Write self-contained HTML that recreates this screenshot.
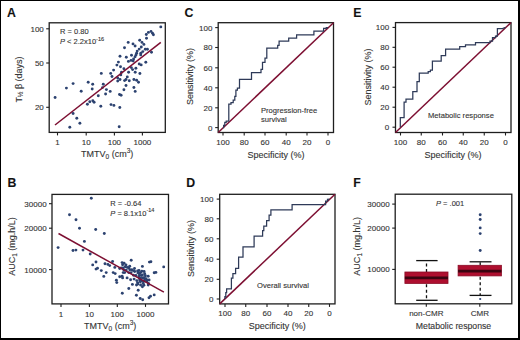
<!DOCTYPE html>
<html><head><meta charset="utf-8"><style>
html,body{margin:0;padding:0;background:#fff;}
body{width:520px;height:340px;overflow:hidden;position:relative;}
svg{position:absolute;left:0;top:0;}
svg text{font-family:"Liberation Sans", sans-serif;stroke:#3a3a3a;stroke-width:0.12px;}
</style></head><body>
<svg width="520" height="340" viewBox="0 0 520 340">
<rect x="0" y="0" width="520" height="340" fill="#fff"/>
<text x="7.0" y="16.5" font-size="12.3" text-anchor="start" fill="#111" font-weight="bold" >A</text>
<rect x="49.2" y="22.8" width="116.10000000000001" height="109.60000000000001" fill="none" stroke="#1e1e1e" stroke-width="1.3"/>
<line x1="57.5" y1="132.4" x2="57.5" y2="135.4" stroke="#1e1e1e" stroke-width="1.1"/>
<text x="57.5" y="144.8" font-size="8" text-anchor="middle" fill="#333" font-weight="normal" >1</text>
<line x1="86.2" y1="132.4" x2="86.2" y2="135.4" stroke="#1e1e1e" stroke-width="1.1"/>
<text x="86.2" y="144.8" font-size="8" text-anchor="middle" fill="#333" font-weight="normal" >10</text>
<line x1="114.4" y1="132.4" x2="114.4" y2="135.4" stroke="#1e1e1e" stroke-width="1.1"/>
<text x="114.4" y="144.8" font-size="8" text-anchor="middle" fill="#333" font-weight="normal" >100</text>
<line x1="142.4" y1="132.4" x2="142.4" y2="135.4" stroke="#1e1e1e" stroke-width="1.1"/>
<text x="142.4" y="144.8" font-size="8" text-anchor="middle" fill="#333" font-weight="normal" >1000</text>
<text x="107.2" y="156.7" font-size="9" text-anchor="middle" fill="#333" font-weight="normal" >TMTV<tspan font-size="6.5" dy="2">0</tspan><tspan dy="-2"> (cm</tspan><tspan font-size="6.5" dy="-3.5">3</tspan><tspan dy="3.5">)</tspan></text>
<line x1="46.2" y1="28.8" x2="49.2" y2="28.8" stroke="#1e1e1e" stroke-width="1.1"/>
<text x="43.8" y="31.7" font-size="8" text-anchor="end" fill="#333" font-weight="normal" >100</text>
<line x1="46.2" y1="63.0" x2="49.2" y2="63.0" stroke="#1e1e1e" stroke-width="1.1"/>
<text x="43.8" y="65.9" font-size="8" text-anchor="end" fill="#333" font-weight="normal" >50</text>
<line x1="46.2" y1="107.3" x2="49.2" y2="107.3" stroke="#1e1e1e" stroke-width="1.1"/>
<text x="43.8" y="110.2" font-size="8" text-anchor="end" fill="#333" font-weight="normal" >20</text>
<text transform="translate(21.9,79.5) rotate(-90)" font-size="9" text-anchor="middle" fill="#333">T<tspan font-size="6.5" dy="1.5">½</tspan><tspan dy="-1.5"> β (days)</tspan></text>
<text x="60.0" y="34.1" font-size="7.5" text-anchor="start" fill="#333" font-weight="normal" >R = 0.80</text>
<text x="60.0" y="44.3" font-size="7.5" text-anchor="start" fill="#333" font-weight="normal" ><tspan font-style="italic">P</tspan> &lt; 2.2x10<tspan font-size="5.6" dy="-3.3">-16</tspan></text>
<circle cx="55.1" cy="97.5" r="1.45" fill="#2c4270"/>
<circle cx="66.4" cy="88.1" r="1.45" fill="#2c4270"/>
<circle cx="73.1" cy="83.6" r="1.45" fill="#2c4270"/>
<circle cx="88.2" cy="82.3" r="1.45" fill="#2c4270"/>
<circle cx="81.2" cy="91.2" r="1.45" fill="#2c4270"/>
<circle cx="87.4" cy="104.2" r="1.45" fill="#2c4270"/>
<circle cx="89.8" cy="101.8" r="1.45" fill="#2c4270"/>
<circle cx="73.1" cy="113.5" r="1.45" fill="#2c4270"/>
<circle cx="76.8" cy="118.2" r="1.45" fill="#2c4270"/>
<circle cx="79.9" cy="123.2" r="1.45" fill="#2c4270"/>
<circle cx="69.8" cy="127.2" r="1.45" fill="#2c4270"/>
<circle cx="118.4" cy="62.1" r="1.45" fill="#2c4270"/>
<circle cx="116.9" cy="65.1" r="1.45" fill="#2c4270"/>
<circle cx="120.5" cy="66.7" r="1.45" fill="#2c4270"/>
<circle cx="123.9" cy="68.7" r="1.45" fill="#2c4270"/>
<circle cx="113.6" cy="70.1" r="1.45" fill="#2c4270"/>
<circle cx="101.3" cy="73.4" r="1.45" fill="#2c4270"/>
<circle cx="110.7" cy="73.4" r="1.45" fill="#2c4270"/>
<circle cx="112" cy="76.5" r="1.45" fill="#2c4270"/>
<circle cx="121.5" cy="72.3" r="1.45" fill="#2c4270"/>
<circle cx="120.8" cy="74.9" r="1.45" fill="#2c4270"/>
<circle cx="117.7" cy="78" r="1.45" fill="#2c4270"/>
<circle cx="120" cy="79.5" r="1.45" fill="#2c4270"/>
<circle cx="117.7" cy="81.1" r="1.45" fill="#2c4270"/>
<circle cx="92.7" cy="84.2" r="1.45" fill="#2c4270"/>
<circle cx="92.2" cy="89" r="1.45" fill="#2c4270"/>
<circle cx="103.3" cy="84.2" r="1.45" fill="#2c4270"/>
<circle cx="102.5" cy="87.6" r="1.45" fill="#2c4270"/>
<circle cx="106.4" cy="89.6" r="1.45" fill="#2c4270"/>
<circle cx="110.2" cy="91.4" r="1.45" fill="#2c4270"/>
<circle cx="105.6" cy="94" r="1.45" fill="#2c4270"/>
<circle cx="119.5" cy="94.5" r="1.45" fill="#2c4270"/>
<circle cx="123.9" cy="89.8" r="1.45" fill="#2c4270"/>
<circle cx="124.6" cy="80.6" r="1.45" fill="#2c4270"/>
<circle cx="98.3" cy="95.7" r="1.45" fill="#2c4270"/>
<circle cx="121.1" cy="95.3" r="1.45" fill="#2c4270"/>
<circle cx="92.8" cy="100.8" r="1.45" fill="#2c4270"/>
<circle cx="94.1" cy="102.3" r="1.45" fill="#2c4270"/>
<circle cx="100.8" cy="106.2" r="1.45" fill="#2c4270"/>
<circle cx="111" cy="104.6" r="1.45" fill="#2c4270"/>
<circle cx="113.9" cy="105.4" r="1.45" fill="#2c4270"/>
<circle cx="119.8" cy="107.5" r="1.45" fill="#2c4270"/>
<circle cx="119.2" cy="126.7" r="1.45" fill="#2c4270"/>
<circle cx="128.2" cy="42.4" r="1.45" fill="#2c4270"/>
<circle cx="133" cy="43.9" r="1.45" fill="#2c4270"/>
<circle cx="135.1" cy="46" r="1.45" fill="#2c4270"/>
<circle cx="124.5" cy="47.7" r="1.45" fill="#2c4270"/>
<circle cx="139.7" cy="40.3" r="1.45" fill="#2c4270"/>
<circle cx="142" cy="42.4" r="1.45" fill="#2c4270"/>
<circle cx="143.9" cy="44.4" r="1.45" fill="#2c4270"/>
<circle cx="141.3" cy="47" r="1.45" fill="#2c4270"/>
<circle cx="139.2" cy="49.1" r="1.45" fill="#2c4270"/>
<circle cx="137.2" cy="51.1" r="1.45" fill="#2c4270"/>
<circle cx="136.6" cy="53.2" r="1.45" fill="#2c4270"/>
<circle cx="140.8" cy="53.2" r="1.45" fill="#2c4270"/>
<circle cx="142.8" cy="51.6" r="1.45" fill="#2c4270"/>
<circle cx="120" cy="56.3" r="1.45" fill="#2c4270"/>
<circle cx="126.3" cy="57.3" r="1.45" fill="#2c4270"/>
<circle cx="131.5" cy="55.3" r="1.45" fill="#2c4270"/>
<circle cx="135.1" cy="56.8" r="1.45" fill="#2c4270"/>
<circle cx="133.6" cy="58.9" r="1.45" fill="#2c4270"/>
<circle cx="128.4" cy="61.4" r="1.45" fill="#2c4270"/>
<circle cx="139.2" cy="64" r="1.45" fill="#2c4270"/>
<circle cx="131" cy="60.4" r="1.45" fill="#2c4270"/>
<circle cx="160.8" cy="26.9" r="1.45" fill="#2c4270"/>
<circle cx="146.3" cy="34.5" r="1.45" fill="#2c4270"/>
<circle cx="148.4" cy="32.4" r="1.45" fill="#2c4270"/>
<circle cx="151" cy="31.4" r="1.45" fill="#2c4270"/>
<circle cx="152.5" cy="33.2" r="1.45" fill="#2c4270"/>
<circle cx="153.4" cy="34.8" r="1.45" fill="#2c4270"/>
<circle cx="146.5" cy="38.2" r="1.45" fill="#2c4270"/>
<circle cx="145.3" cy="49.2" r="1.45" fill="#2c4270"/>
<circle cx="147.4" cy="49.2" r="1.45" fill="#2c4270"/>
<circle cx="151.5" cy="52.3" r="1.45" fill="#2c4270"/>
<circle cx="136" cy="54.9" r="1.45" fill="#2c4270"/>
<circle cx="140.7" cy="54.9" r="1.45" fill="#2c4270"/>
<circle cx="133.2" cy="61" r="1.45" fill="#2c4270"/>
<circle cx="145.8" cy="62.3" r="1.45" fill="#2c4270"/>
<circle cx="141.2" cy="64.9" r="1.45" fill="#2c4270"/>
<circle cx="131.3" cy="67.6" r="1.45" fill="#2c4270"/>
<circle cx="132.6" cy="69.6" r="1.45" fill="#2c4270"/>
<circle cx="135.9" cy="68.2" r="1.45" fill="#2c4270"/>
<circle cx="135.2" cy="72.2" r="1.45" fill="#2c4270"/>
<circle cx="128.6" cy="72.2" r="1.45" fill="#2c4270"/>
<circle cx="139.9" cy="73.5" r="1.45" fill="#2c4270"/>
<circle cx="126" cy="79.5" r="1.45" fill="#2c4270"/>
<circle cx="129.3" cy="80.8" r="1.45" fill="#2c4270"/>
<circle cx="127.3" cy="76.9" r="1.45" fill="#2c4270"/>
<circle cx="133.9" cy="79.5" r="1.45" fill="#2c4270"/>
<circle cx="136.6" cy="80.2" r="1.45" fill="#2c4270"/>
<circle cx="138.5" cy="82.2" r="1.45" fill="#2c4270"/>
<circle cx="126" cy="85.5" r="1.45" fill="#2c4270"/>
<circle cx="133.9" cy="87.5" r="1.45" fill="#2c4270"/>
<circle cx="135.2" cy="91.4" r="1.45" fill="#2c4270"/>
<line x1="55" y1="125" x2="160.8" y2="42.4" stroke="#7d0f32" stroke-width="1.5"/>
<text x="7.4" y="186.5" font-size="12.3" text-anchor="start" fill="#111" font-weight="bold" >B</text>
<rect x="52.0" y="194.4" width="116.5" height="109.49999999999997" fill="none" stroke="#1e1e1e" stroke-width="1.3"/>
<line x1="61.0" y1="303.9" x2="61.0" y2="306.9" stroke="#1e1e1e" stroke-width="1.1"/>
<text x="61.0" y="316.6" font-size="8" text-anchor="middle" fill="#333" font-weight="normal" >1</text>
<line x1="89.4" y1="303.9" x2="89.4" y2="306.9" stroke="#1e1e1e" stroke-width="1.1"/>
<text x="89.4" y="316.6" font-size="8" text-anchor="middle" fill="#333" font-weight="normal" >10</text>
<line x1="117.3" y1="303.9" x2="117.3" y2="306.9" stroke="#1e1e1e" stroke-width="1.1"/>
<text x="117.3" y="316.6" font-size="8" text-anchor="middle" fill="#333" font-weight="normal" >100</text>
<line x1="145.5" y1="303.9" x2="145.5" y2="306.9" stroke="#1e1e1e" stroke-width="1.1"/>
<text x="145.5" y="316.6" font-size="8" text-anchor="middle" fill="#333" font-weight="normal" >1000</text>
<text x="110.2" y="328.7" font-size="9" text-anchor="middle" fill="#333" font-weight="normal" >TMTV<tspan font-size="6.5" dy="2">0</tspan><tspan dy="-2"> (cm</tspan><tspan font-size="6.5" dy="-3.5">3</tspan><tspan dy="3.5">)</tspan></text>
<line x1="49.0" y1="203.7" x2="52.0" y2="203.7" stroke="#1e1e1e" stroke-width="1.1"/>
<text x="46.6" y="206.6" font-size="8" text-anchor="end" fill="#333" font-weight="normal" >30000</text>
<line x1="49.0" y1="228.2" x2="52.0" y2="228.2" stroke="#1e1e1e" stroke-width="1.1"/>
<text x="46.6" y="231.1" font-size="8" text-anchor="end" fill="#333" font-weight="normal" >20000</text>
<line x1="49.0" y1="269.6" x2="52.0" y2="269.6" stroke="#1e1e1e" stroke-width="1.1"/>
<text x="46.6" y="272.5" font-size="8" text-anchor="end" fill="#333" font-weight="normal" >10000</text>
<text transform="translate(15.4,246.5) rotate(-90)" font-size="9" text-anchor="middle" fill="#333">AUC<tspan font-size="6.5" dy="1.8">1</tspan><tspan dy="-1.8"> (mg.h/L)</tspan></text>
<text x="110.3" y="206.0" font-size="7.5" text-anchor="start" fill="#333" font-weight="normal" >R = -0.64</text>
<text x="110.3" y="215.5" font-size="7.5" text-anchor="start" fill="#333" font-weight="normal" ><tspan font-style="italic">P</tspan> = 8.1x10<tspan font-size="5.6" dy="-3.3">-14</tspan></text>
<circle cx="91.3" cy="198.2" r="1.45" fill="#2c4270"/>
<circle cx="69.5" cy="214.7" r="1.45" fill="#2c4270"/>
<circle cx="76" cy="219.8" r="1.45" fill="#2c4270"/>
<circle cx="79.5" cy="228.2" r="1.45" fill="#2c4270"/>
<circle cx="95.7" cy="229.5" r="1.45" fill="#2c4270"/>
<circle cx="104.3" cy="233.5" r="1.45" fill="#2c4270"/>
<circle cx="84.4" cy="241.4" r="1.45" fill="#2c4270"/>
<circle cx="58.1" cy="247.6" r="1.45" fill="#2c4270"/>
<circle cx="73" cy="250.5" r="1.45" fill="#2c4270"/>
<circle cx="75.9" cy="250.1" r="1.45" fill="#2c4270"/>
<circle cx="83" cy="250.1" r="1.45" fill="#2c4270"/>
<circle cx="90.2" cy="254" r="1.45" fill="#2c4270"/>
<circle cx="92.7" cy="264.9" r="1.45" fill="#2c4270"/>
<circle cx="96" cy="262" r="1.45" fill="#2c4270"/>
<circle cx="96" cy="269.1" r="1.45" fill="#2c4270"/>
<circle cx="97.5" cy="268.3" r="1.45" fill="#2c4270"/>
<circle cx="101.3" cy="270.6" r="1.45" fill="#2c4270"/>
<circle cx="105" cy="263.8" r="1.45" fill="#2c4270"/>
<circle cx="107.9" cy="264.4" r="1.45" fill="#2c4270"/>
<circle cx="109.7" cy="265.6" r="1.45" fill="#2c4270"/>
<circle cx="112.6" cy="261.5" r="1.45" fill="#2c4270"/>
<circle cx="106.2" cy="272.6" r="1.45" fill="#2c4270"/>
<circle cx="103.8" cy="276.4" r="1.45" fill="#2c4270"/>
<circle cx="113.2" cy="272.6" r="1.45" fill="#2c4270"/>
<circle cx="115.2" cy="273.6" r="1.45" fill="#2c4270"/>
<circle cx="114.8" cy="267.4" r="1.45" fill="#2c4270"/>
<circle cx="119.7" cy="268.5" r="1.45" fill="#2c4270"/>
<circle cx="122.1" cy="262.6" r="1.45" fill="#2c4270"/>
<circle cx="123.2" cy="267.9" r="1.45" fill="#2c4270"/>
<circle cx="123.2" cy="272.6" r="1.45" fill="#2c4270"/>
<circle cx="119.7" cy="276.8" r="1.45" fill="#2c4270"/>
<circle cx="122.1" cy="276.2" r="1.45" fill="#2c4270"/>
<circle cx="122.6" cy="277.9" r="1.45" fill="#2c4270"/>
<circle cx="116.4" cy="280.3" r="1.45" fill="#2c4270"/>
<circle cx="116.8" cy="282.6" r="1.45" fill="#2c4270"/>
<circle cx="122.3" cy="293.2" r="1.45" fill="#2c4270"/>
<circle cx="131.2" cy="260.3" r="1.45" fill="#2c4270"/>
<circle cx="142.4" cy="266.4" r="1.45" fill="#2c4270"/>
<circle cx="149.4" cy="262.1" r="1.45" fill="#2c4270"/>
<circle cx="124.1" cy="263.2" r="1.45" fill="#2c4270"/>
<circle cx="121.2" cy="267.9" r="1.45" fill="#2c4270"/>
<circle cx="125.3" cy="266.8" r="1.45" fill="#2c4270"/>
<circle cx="128.8" cy="267.9" r="1.45" fill="#2c4270"/>
<circle cx="131.8" cy="269.7" r="1.45" fill="#2c4270"/>
<circle cx="134.7" cy="271.5" r="1.45" fill="#2c4270"/>
<circle cx="137.6" cy="270.9" r="1.45" fill="#2c4270"/>
<circle cx="140.6" cy="272.6" r="1.45" fill="#2c4270"/>
<circle cx="144.1" cy="271.5" r="1.45" fill="#2c4270"/>
<circle cx="144.7" cy="273.8" r="1.45" fill="#2c4270"/>
<circle cx="148.2" cy="276.2" r="1.45" fill="#2c4270"/>
<circle cx="124.7" cy="272.6" r="1.45" fill="#2c4270"/>
<circle cx="127.1" cy="277.9" r="1.45" fill="#2c4270"/>
<circle cx="130.6" cy="279.7" r="1.45" fill="#2c4270"/>
<circle cx="134.1" cy="279.1" r="1.45" fill="#2c4270"/>
<circle cx="138.8" cy="276.8" r="1.45" fill="#2c4270"/>
<circle cx="141.2" cy="275.6" r="1.45" fill="#2c4270"/>
<circle cx="142.9" cy="277.9" r="1.45" fill="#2c4270"/>
<circle cx="140" cy="280.3" r="1.45" fill="#2c4270"/>
<circle cx="143.5" cy="281.5" r="1.45" fill="#2c4270"/>
<circle cx="137.6" cy="282.6" r="1.45" fill="#2c4270"/>
<circle cx="132.4" cy="284.4" r="1.45" fill="#2c4270"/>
<circle cx="136.5" cy="285" r="1.45" fill="#2c4270"/>
<circle cx="140.6" cy="285" r="1.45" fill="#2c4270"/>
<circle cx="142.4" cy="286.8" r="1.45" fill="#2c4270"/>
<circle cx="148.2" cy="285" r="1.45" fill="#2c4270"/>
<circle cx="128.8" cy="288.5" r="1.45" fill="#2c4270"/>
<circle cx="138.2" cy="290.3" r="1.45" fill="#2c4270"/>
<circle cx="150.9" cy="261.8" r="1.45" fill="#2c4270"/>
<circle cx="163.7" cy="266.9" r="1.45" fill="#2c4270"/>
<circle cx="154.2" cy="272.8" r="1.45" fill="#2c4270"/>
<circle cx="155.9" cy="272.4" r="1.45" fill="#2c4270"/>
<circle cx="139.5" cy="273.5" r="1.45" fill="#2c4270"/>
<circle cx="142.4" cy="275" r="1.45" fill="#2c4270"/>
<circle cx="145.4" cy="275.7" r="1.45" fill="#2c4270"/>
<circle cx="139.5" cy="278.7" r="1.45" fill="#2c4270"/>
<circle cx="141.7" cy="280.9" r="1.45" fill="#2c4270"/>
<circle cx="146.8" cy="280.1" r="1.45" fill="#2c4270"/>
<circle cx="143.9" cy="285.3" r="1.45" fill="#2c4270"/>
<circle cx="154.2" cy="294.9" r="1.45" fill="#2c4270"/>
<circle cx="150.5" cy="296.3" r="1.45" fill="#2c4270"/>
<circle cx="149" cy="297.8" r="1.45" fill="#2c4270"/>
<circle cx="140.2" cy="298.5" r="1.45" fill="#2c4270"/>
<circle cx="136.4" cy="295.2" r="1.45" fill="#2c4270"/>
<circle cx="142.7" cy="299.7" r="1.45" fill="#2c4270"/>
<circle cx="133.2" cy="270.6" r="1.45" fill="#2c4270"/>
<circle cx="137.9" cy="272.9" r="1.45" fill="#2c4270"/>
<circle cx="136.8" cy="280.6" r="1.45" fill="#2c4270"/>
<circle cx="140.3" cy="281.8" r="1.45" fill="#2c4270"/>
<circle cx="143.2" cy="283.5" r="1.45" fill="#2c4270"/>
<circle cx="146.8" cy="281.8" r="1.45" fill="#2c4270"/>
<circle cx="148.5" cy="283.5" r="1.45" fill="#2c4270"/>
<circle cx="137.9" cy="284.1" r="1.45" fill="#2c4270"/>
<circle cx="149.1" cy="280" r="1.45" fill="#2c4270"/>
<circle cx="126" cy="265" r="1.45" fill="#2c4270"/>
<circle cx="129.7" cy="266.3" r="1.45" fill="#2c4270"/>
<circle cx="134.5" cy="268.5" r="1.45" fill="#2c4270"/>
<circle cx="139" cy="270.5" r="1.45" fill="#2c4270"/>
<circle cx="141.8" cy="271.2" r="1.45" fill="#2c4270"/>
<circle cx="146" cy="278.6" r="1.45" fill="#2c4270"/>
<circle cx="144.5" cy="280.2" r="1.45" fill="#2c4270"/>
<circle cx="122.6" cy="264.7" r="1.45" fill="#2c4270"/>
<circle cx="123.9" cy="269.9" r="1.45" fill="#2c4270"/>
<circle cx="126.3" cy="270.1" r="1.45" fill="#2c4270"/>
<circle cx="127.4" cy="267.4" r="1.45" fill="#2c4270"/>
<circle cx="128.7" cy="272.6" r="1.45" fill="#2c4270"/>
<circle cx="129.8" cy="269.7" r="1.45" fill="#2c4270"/>
<circle cx="131.1" cy="272.8" r="1.45" fill="#2c4270"/>
<circle cx="133.5" cy="275.3" r="1.45" fill="#2c4270"/>
<circle cx="135.9" cy="275.4" r="1.45" fill="#2c4270"/>
<circle cx="139.4" cy="275.1" r="1.45" fill="#2c4270"/>
<circle cx="140.7" cy="278.1" r="1.45" fill="#2c4270"/>
<circle cx="144.2" cy="277.8" r="1.45" fill="#2c4270"/>
<line x1="58.5" y1="233.5" x2="163.9" y2="292.2" stroke="#7d0f32" stroke-width="1.5"/>
<text x="184.4" y="16.5" font-size="12.3" text-anchor="start" fill="#111" font-weight="bold" >C</text>
<rect x="218.2" y="22.7" width="115.30000000000001" height="109.8" fill="none" stroke="#1e1e1e" stroke-width="1.3"/>
<line x1="223" y1="132.5" x2="223" y2="135.5" stroke="#1e1e1e" stroke-width="1.1"/>
<text x="223" y="144.9" font-size="8" text-anchor="middle" fill="#333" font-weight="normal" >100</text>
<line x1="244.2" y1="132.5" x2="244.2" y2="135.5" stroke="#1e1e1e" stroke-width="1.1"/>
<text x="244.2" y="144.9" font-size="8" text-anchor="middle" fill="#333" font-weight="normal" >80</text>
<line x1="265" y1="132.5" x2="265" y2="135.5" stroke="#1e1e1e" stroke-width="1.1"/>
<text x="265" y="144.9" font-size="8" text-anchor="middle" fill="#333" font-weight="normal" >60</text>
<line x1="286.2" y1="132.5" x2="286.2" y2="135.5" stroke="#1e1e1e" stroke-width="1.1"/>
<text x="286.2" y="144.9" font-size="8" text-anchor="middle" fill="#333" font-weight="normal" >40</text>
<line x1="307" y1="132.5" x2="307" y2="135.5" stroke="#1e1e1e" stroke-width="1.1"/>
<text x="307" y="144.9" font-size="8" text-anchor="middle" fill="#333" font-weight="normal" >20</text>
<line x1="328" y1="132.5" x2="328" y2="135.5" stroke="#1e1e1e" stroke-width="1.1"/>
<text x="328" y="144.9" font-size="8" text-anchor="middle" fill="#333" font-weight="normal" >0</text>
<line x1="215.2" y1="127.6" x2="218.2" y2="127.6" stroke="#1e1e1e" stroke-width="1.1"/>
<text x="212.4" y="130.5" font-size="8" text-anchor="end" fill="#333" font-weight="normal" >0</text>
<line x1="215.2" y1="107.8" x2="218.2" y2="107.8" stroke="#1e1e1e" stroke-width="1.1"/>
<text x="212.4" y="110.7" font-size="8" text-anchor="end" fill="#333" font-weight="normal" >20</text>
<line x1="215.2" y1="87.8" x2="218.2" y2="87.8" stroke="#1e1e1e" stroke-width="1.1"/>
<text x="212.4" y="90.7" font-size="8" text-anchor="end" fill="#333" font-weight="normal" >40</text>
<line x1="215.2" y1="67.8" x2="218.2" y2="67.8" stroke="#1e1e1e" stroke-width="1.1"/>
<text x="212.4" y="70.7" font-size="8" text-anchor="end" fill="#333" font-weight="normal" >60</text>
<line x1="215.2" y1="47.5" x2="218.2" y2="47.5" stroke="#1e1e1e" stroke-width="1.1"/>
<text x="212.4" y="50.4" font-size="8" text-anchor="end" fill="#333" font-weight="normal" >80</text>
<line x1="215.2" y1="27.6" x2="218.2" y2="27.6" stroke="#1e1e1e" stroke-width="1.1"/>
<text x="212.4" y="30.5" font-size="8" text-anchor="end" fill="#333" font-weight="normal" >100</text>
<text transform="translate(193.2,76.6) rotate(-90)" font-size="9" text-anchor="middle" fill="#333">Sensitivity (%)</text>
<text x="275.9" y="157.8" font-size="9" text-anchor="middle" fill="#333" font-weight="normal" >Specificity (%)</text>
<line x1="218.2" y1="132.5" x2="333.5" y2="22.7" stroke="#7d0f32" stroke-width="1.5"/>
<path d="M223,127.6 L223.6,127.6 L223.6,125.3 L224.8,125.3 L224.8,122.4 L226.2,122.4 L226.2,121 L228.8,121 L228.8,104 L231,104 L231,102.6 L233.2,102.6 L233.2,100.2 L234.8,100.2 L234.8,96.4 L235.9,96.4 L235.9,90 L237.4,90 L237.4,88 L239.5,88 L239.5,79.4 L251.5,79.4 L251.5,72.5 L261,72.5 L261,69.4 L262.5,69.4 L262.5,62.4 L265,62.4 L265,58 L266.8,58 L266.8,48.2 L277.7,48.2 L277.7,45.4 L279.1,45.4 L279.1,41.2 L288.7,41.2 L288.7,38.1 L296.6,38.1 L296.6,34.9 L313.9,34.9 L313.9,31.1 L323.6,31.1 L323.6,28.4 L326.3,28.4 L326.3,27.6 L328,27.6" fill="none" stroke="#2e3a58" stroke-width="1.25" stroke-linejoin="miter"/>
<text x="261.0" y="113.2" font-size="7.6" text-anchor="start" fill="#333" font-weight="normal" >Progression-free</text>
<text x="261.0" y="121.9" font-size="7.6" text-anchor="start" fill="#333" font-weight="normal" >survival</text>
<text x="186.2" y="186.5" font-size="12.3" text-anchor="start" fill="#111" font-weight="bold" >D</text>
<rect x="219.7" y="194.3" width="115.30000000000001" height="109.59999999999997" fill="none" stroke="#1e1e1e" stroke-width="1.3"/>
<line x1="225" y1="303.9" x2="225" y2="306.9" stroke="#1e1e1e" stroke-width="1.1"/>
<text x="225" y="316.29999999999995" font-size="8" text-anchor="middle" fill="#333" font-weight="normal" >100</text>
<line x1="245.75" y1="303.9" x2="245.75" y2="306.9" stroke="#1e1e1e" stroke-width="1.1"/>
<text x="245.75" y="316.29999999999995" font-size="8" text-anchor="middle" fill="#333" font-weight="normal" >80</text>
<line x1="267" y1="303.9" x2="267" y2="306.9" stroke="#1e1e1e" stroke-width="1.1"/>
<text x="267" y="316.29999999999995" font-size="8" text-anchor="middle" fill="#333" font-weight="normal" >60</text>
<line x1="288" y1="303.9" x2="288" y2="306.9" stroke="#1e1e1e" stroke-width="1.1"/>
<text x="288" y="316.29999999999995" font-size="8" text-anchor="middle" fill="#333" font-weight="normal" >40</text>
<line x1="308.75" y1="303.9" x2="308.75" y2="306.9" stroke="#1e1e1e" stroke-width="1.1"/>
<text x="308.75" y="316.29999999999995" font-size="8" text-anchor="middle" fill="#333" font-weight="normal" >20</text>
<line x1="329.5" y1="303.9" x2="329.5" y2="306.9" stroke="#1e1e1e" stroke-width="1.1"/>
<text x="329.5" y="316.29999999999995" font-size="8" text-anchor="middle" fill="#333" font-weight="normal" >0</text>
<line x1="216.7" y1="299" x2="219.7" y2="299" stroke="#1e1e1e" stroke-width="1.1"/>
<text x="213.4" y="301.9" font-size="8" text-anchor="end" fill="#333" font-weight="normal" >0</text>
<line x1="216.7" y1="279.3" x2="219.7" y2="279.3" stroke="#1e1e1e" stroke-width="1.1"/>
<text x="213.4" y="282.2" font-size="8" text-anchor="end" fill="#333" font-weight="normal" >20</text>
<line x1="216.7" y1="259.2" x2="219.7" y2="259.2" stroke="#1e1e1e" stroke-width="1.1"/>
<text x="213.4" y="262.1" font-size="8" text-anchor="end" fill="#333" font-weight="normal" >40</text>
<line x1="216.7" y1="238.8" x2="219.7" y2="238.8" stroke="#1e1e1e" stroke-width="1.1"/>
<text x="213.4" y="241.7" font-size="8" text-anchor="end" fill="#333" font-weight="normal" >60</text>
<line x1="216.7" y1="218.8" x2="219.7" y2="218.8" stroke="#1e1e1e" stroke-width="1.1"/>
<text x="213.4" y="221.7" font-size="8" text-anchor="end" fill="#333" font-weight="normal" >80</text>
<line x1="216.7" y1="199.1" x2="219.7" y2="199.1" stroke="#1e1e1e" stroke-width="1.1"/>
<text x="213.4" y="202.0" font-size="8" text-anchor="end" fill="#333" font-weight="normal" >100</text>
<text transform="translate(193.6,248.5) rotate(-90)" font-size="9" text-anchor="middle" fill="#333">Sensitivity (%)</text>
<text x="277.3" y="328.6" font-size="9" text-anchor="middle" fill="#333" font-weight="normal" >Specificity (%)</text>
<line x1="219.7" y1="303.9" x2="335.0" y2="194.3" stroke="#7d0f32" stroke-width="1.5"/>
<path d="M224.9,299 L224.9,296.5 L225.8,296.5 L225.8,292.6 L226.6,292.6 L226.6,288.8 L231.4,288.8 L231.4,278.2 L232.9,278.2 L232.9,273.5 L235.6,273.5 L235.6,268.3 L238.6,268.3 L238.6,257.2 L243,257.2 L243,246.8 L254.1,246.8 L254.1,236.2 L262.6,236.2 L262.6,230.6 L263.8,230.6 L263.8,226 L266.6,226 L266.6,220.5 L269.1,220.5 L269.1,215 L270.9,215 L270.9,209.8 L292.1,209.8 L292.1,204.7 L325.6,204.7 L325.6,201 L327.5,201 L327.5,199.3 L329.5,199.1" fill="none" stroke="#2e3a58" stroke-width="1.25" stroke-linejoin="miter"/>
<text x="257.0" y="288.2" font-size="7.6" text-anchor="start" fill="#333" font-weight="normal" >Overall survival</text>
<text x="353.2" y="16.5" font-size="12.3" text-anchor="start" fill="#111" font-weight="bold" >E</text>
<rect x="395.5" y="22.6" width="115.5" height="109.9" fill="none" stroke="#1e1e1e" stroke-width="1.3"/>
<line x1="400.5" y1="132.5" x2="400.5" y2="135.5" stroke="#1e1e1e" stroke-width="1.1"/>
<text x="400.5" y="144.9" font-size="8" text-anchor="middle" fill="#333" font-weight="normal" >100</text>
<line x1="421.25" y1="132.5" x2="421.25" y2="135.5" stroke="#1e1e1e" stroke-width="1.1"/>
<text x="421.25" y="144.9" font-size="8" text-anchor="middle" fill="#333" font-weight="normal" >80</text>
<line x1="442.5" y1="132.5" x2="442.5" y2="135.5" stroke="#1e1e1e" stroke-width="1.1"/>
<text x="442.5" y="144.9" font-size="8" text-anchor="middle" fill="#333" font-weight="normal" >60</text>
<line x1="463.25" y1="132.5" x2="463.25" y2="135.5" stroke="#1e1e1e" stroke-width="1.1"/>
<text x="463.25" y="144.9" font-size="8" text-anchor="middle" fill="#333" font-weight="normal" >40</text>
<line x1="484.25" y1="132.5" x2="484.25" y2="135.5" stroke="#1e1e1e" stroke-width="1.1"/>
<text x="484.25" y="144.9" font-size="8" text-anchor="middle" fill="#333" font-weight="normal" >20</text>
<line x1="505.5" y1="132.5" x2="505.5" y2="135.5" stroke="#1e1e1e" stroke-width="1.1"/>
<text x="505.5" y="144.9" font-size="8" text-anchor="middle" fill="#333" font-weight="normal" >0</text>
<line x1="392.5" y1="127.2" x2="395.5" y2="127.2" stroke="#1e1e1e" stroke-width="1.1"/>
<text x="389.2" y="130.1" font-size="8" text-anchor="end" fill="#333" font-weight="normal" >0</text>
<line x1="392.5" y1="107.2" x2="395.5" y2="107.2" stroke="#1e1e1e" stroke-width="1.1"/>
<text x="389.2" y="110.1" font-size="8" text-anchor="end" fill="#333" font-weight="normal" >20</text>
<line x1="392.5" y1="87.2" x2="395.5" y2="87.2" stroke="#1e1e1e" stroke-width="1.1"/>
<text x="389.2" y="90.1" font-size="8" text-anchor="end" fill="#333" font-weight="normal" >40</text>
<line x1="392.5" y1="67.2" x2="395.5" y2="67.2" stroke="#1e1e1e" stroke-width="1.1"/>
<text x="389.2" y="70.1" font-size="8" text-anchor="end" fill="#333" font-weight="normal" >60</text>
<line x1="392.5" y1="47.3" x2="395.5" y2="47.3" stroke="#1e1e1e" stroke-width="1.1"/>
<text x="389.2" y="50.2" font-size="8" text-anchor="end" fill="#333" font-weight="normal" >80</text>
<line x1="392.5" y1="27.4" x2="395.5" y2="27.4" stroke="#1e1e1e" stroke-width="1.1"/>
<text x="389.2" y="30.3" font-size="8" text-anchor="end" fill="#333" font-weight="normal" >100</text>
<text transform="translate(370.7,77.0) rotate(-90)" font-size="9" text-anchor="middle" fill="#333">Sensitivity (%)</text>
<text x="453.1" y="157.8" font-size="9" text-anchor="middle" fill="#333" font-weight="normal" >Specificity (%)</text>
<line x1="395.5" y1="132.5" x2="511.0" y2="22.6" stroke="#7d0f32" stroke-width="1.5"/>
<path d="M400.3,127.3 L400.3,117.5 L404.1,117.5 L404.1,102 L406,102 L406,99.1 L412.8,99.1 L412.8,91.5 L417,91.5 L417,81.5 L419.3,81.5 L419.3,73.2 L428.2,73.2 L428.2,71.5 L430.4,71.5 L430.4,70 L432.4,70 L432.4,61 L441.2,61 L441.2,55.5 L445.6,55.5 L445.6,49.1 L459.7,49.1 L459.7,46.5 L465.5,46.5 L465.5,44.8 L475.5,44.8 L475.5,42.6 L490,42.6 L490,41 L492.5,41 L492.5,37.5 L495.5,37.5 L495.5,36 L497.4,36 L497.4,28.5 L502.4,28.5 L505.5,27.4" fill="none" stroke="#2e3a58" stroke-width="1.25" stroke-linejoin="miter"/>
<text x="428.0" y="117.7" font-size="7.6" text-anchor="start" fill="#333" font-weight="normal" >Metabolic response</text>
<text x="353.2" y="186.5" font-size="12.3" text-anchor="start" fill="#111" font-weight="bold" >F</text>
<rect x="395.2" y="194.2" width="116.60000000000002" height="109.60000000000002" fill="none" stroke="#1e1e1e" stroke-width="1.3"/>
<line x1="426.3" y1="303.8" x2="426.3" y2="306.8" stroke="#1e1e1e" stroke-width="1.1"/>
<text x="426.3" y="316.4" font-size="8" text-anchor="middle" fill="#333" font-weight="normal" >non-CMR</text>
<line x1="479.8" y1="303.8" x2="479.8" y2="306.8" stroke="#1e1e1e" stroke-width="1.1"/>
<text x="479.8" y="316.4" font-size="8" text-anchor="middle" fill="#333" font-weight="normal" >CMR</text>
<text x="453.5" y="329.2" font-size="8.7" text-anchor="middle" fill="#333" font-weight="normal" >Metabolic response</text>
<line x1="392.2" y1="204.1" x2="395.2" y2="204.1" stroke="#1e1e1e" stroke-width="1.1"/>
<text x="389.6" y="207.0" font-size="8" text-anchor="end" fill="#333" font-weight="normal" >30000</text>
<line x1="392.2" y1="228.1" x2="395.2" y2="228.1" stroke="#1e1e1e" stroke-width="1.1"/>
<text x="389.6" y="231.0" font-size="8" text-anchor="end" fill="#333" font-weight="normal" >20000</text>
<line x1="392.2" y1="269.4" x2="395.2" y2="269.4" stroke="#1e1e1e" stroke-width="1.1"/>
<text x="389.6" y="272.3" font-size="8" text-anchor="end" fill="#333" font-weight="normal" >10000</text>
<text transform="translate(359.8,246.3) rotate(-90)" font-size="9" text-anchor="middle" fill="#333">AUC<tspan font-size="6.5" dy="1.8">1</tspan><tspan dy="-1.8"> (mg.h/L)</tspan></text>
<text x="436.0" y="205.5" font-size="7.5" text-anchor="start" fill="#333" font-weight="normal" ><tspan font-style="italic">P</tspan> = .001</text>
<line x1="426.5" y1="272.0" x2="426.5" y2="260.6" stroke="#111" stroke-width="1.3" stroke-dasharray="3,2.5"/>
<line x1="426.5" y1="284.2" x2="426.5" y2="300.3" stroke="#111" stroke-width="1.3" stroke-dasharray="3,2.5"/>
<line x1="416.2" y1="260.6" x2="437.6" y2="260.6" stroke="#111" stroke-width="1.3"/>
<line x1="416.2" y1="300.3" x2="437.6" y2="300.3" stroke="#111" stroke-width="1.3"/>
<rect x="404.9" y="272.0" width="43.10000000000002" height="11.399999999999977" fill="#ae0f2f" stroke="#8a0a25" stroke-width="0.8"/>
<line x1="404.9" y1="277.8" x2="448.0" y2="277.8" stroke="#3a0410" stroke-width="2.8"/>
<line x1="480.2" y1="265.3" x2="480.2" y2="261.8" stroke="#111" stroke-width="1.3" stroke-dasharray="3,2.5"/>
<line x1="480.2" y1="276.7" x2="480.2" y2="295.4" stroke="#111" stroke-width="1.3" stroke-dasharray="3,2.5"/>
<line x1="469.6" y1="261.8" x2="491.5" y2="261.8" stroke="#111" stroke-width="1.3"/>
<line x1="469.6" y1="295.4" x2="491.5" y2="295.4" stroke="#111" stroke-width="1.3"/>
<rect x="458.1" y="265.3" width="43.299999999999955" height="10.599999999999966" fill="#ae0f2f" stroke="#8a0a25" stroke-width="0.8"/>
<line x1="458.1" y1="271.2" x2="501.4" y2="271.2" stroke="#3a0410" stroke-width="2.8"/>
<circle cx="480.2" cy="214.7" r="1.45" fill="#2c4270"/>
<circle cx="480.2" cy="219.5" r="1.45" fill="#2c4270"/>
<circle cx="480.2" cy="227.9" r="1.45" fill="#2c4270"/>
<circle cx="480.2" cy="233.6" r="1.45" fill="#2c4270"/>
<circle cx="480.2" cy="250.5" r="1.45" fill="#2c4270"/>
<circle cx="480.2" cy="299.0" r="1.1" fill="#2c4270"/>
<rect x="0.5" y="0.5" width="518" height="338" fill="none" stroke="#000" stroke-width="1"/>
<rect x="518" y="0" width="2" height="340" fill="#000"/>
<rect x="0" y="338" width="520" height="2" fill="#000"/>
</svg>
</body></html>
